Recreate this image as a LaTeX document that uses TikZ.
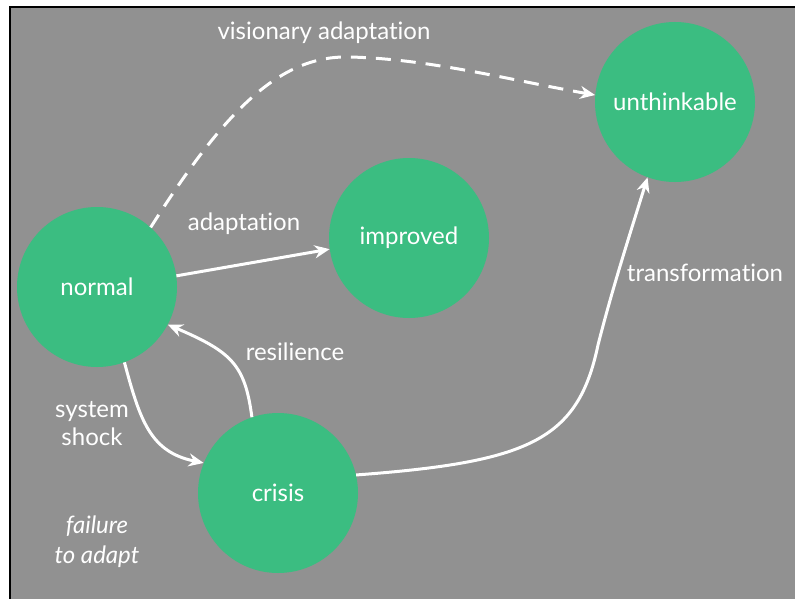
\documentclass[tikz,border=0pt]{standalone}
\usepackage{fontspec}
\setmainfont{Lato}[Ligatures=NoCommon]
\usetikzlibrary{arrows.meta}
\definecolor{bggray}{RGB}{145,145,145}
\definecolor{nodegreen}{RGB}{59,189,129}
\tikzset{
  state/.style={circle, fill=nodegreen, minimum size=160pt, inner sep=0pt, text=white, font=\fontsize{24}{28}\selectfont},
  lbl/.style={text=white, font=\fontsize{24}{28}\selectfont, align=center},
  conn/.style={draw=white, line width=3pt, -{Stealth[length=15pt,width=13pt]}}
}
\begin{document}
\begin{tikzpicture}[x=1pt,y=-1pt]
\useasboundingbox (0,0) rectangle (795,599);
\fill[bggray] (10,7) rectangle (800,605);
\draw[black, line width=2pt] (10,605) -- (10,7) -- (800,7);
\node[state] (normal) at (97,287) {normal};
\node[state] (improved) at (409,238) {improved};
\node[state] (unthinkable) at (675,102) {unthinkable};
\node[state] (crisis) at (278,493) {crisis};
\node[lbl] (tva) at (324,33) {visionary adaptation};
\node[lbl] (tad) at (244,224) {adaptation};
\node[lbl] (tres) at (295,352) {resilience};
\node[lbl] (ttr) at (705,273) {transformation};
\node[lbl] (tss) at (92,424) {system\\shock};
\node[lbl, font=\fontsize{24}{30}\selectfont\itshape] (tfa) at (97,542) {failure\\to adapt};
\coordinate (vtop) at (350,57);
\coordinate (tmid) at (598,345);
\draw[conn, dash pattern=on 15pt off 10pt] (normal.48) .. controls (225,110) and (280,55) .. (vtop) .. controls (430,59) and (510,80) .. (unthinkable.175);
\draw[conn] (normal.8) -- (improved.188);
\draw[conn] (crisis.109) .. controls (245,365) and (232,352) .. (normal.332);
\draw[conn] (normal.290) .. controls (140,420) and (150,452) .. (crisis.158);
\draw[conn] (crisis.13) .. controls (530,462) and (578,440) .. (tmid) .. controls (612,290) and (628,240) .. (unthinkable.250);
\end{tikzpicture}
\end{document}
